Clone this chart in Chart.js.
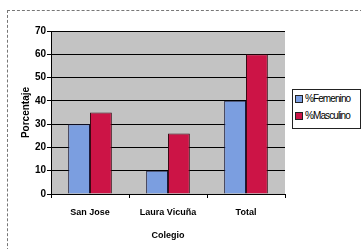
<!DOCTYPE html>
<html>
<head>
<meta charset="utf-8">
<script src="https://cdn.jsdelivr.net/npm/chart.js@4.4.1/dist/chart.umd.min.js"></script>
<style>
  html, body { margin: 0; padding: 0; background: #fff; }
  #wrap { position: relative; width: 361px; height: 249px; overflow: hidden; }
  #frame { position: absolute; left: 7px; top: 10px; width: 360px; height: 250px; border-left: 1px dashed #777; border-top: 1px dashed #777; }
  #legend { position: absolute; left: 292px; top: 89px; width: 67px; height: 38px; border: 1px solid #222; background: #fff;
    font: 10px "Liberation Sans", Arial, sans-serif; letter-spacing: -0.9px; color: #000; }
  .li { display: flex; align-items: center; height: 17px; padding-left: 2px; }
  .sw { width: 6px; height: 6px; border: 1px solid #222; margin-right: 2px; }
</style>
</head>
<body>
<div id="wrap">
  <div id="frame"></div>
  <canvas id="chart" width="361" height="249"></canvas>
  <div id="legend"></div>
</div>
<script>
// ── DATA ──
const colegios = ['San Jose', 'Laura Vicuña', 'Total'];
const femenino = [30, 10, 40];
const masculino = [35, 26, 60];
const seriesLabels = ['%Femenino', '%Masculino'];
const seriesColors = ['#7b9ee0', '#cc1446'];
const yTicks = [0, 10, 20, 30, 40, 50, 60, 70];

// ── PLOT BACKGROUND ──
const plotBg = {
  id: 'plotBg',
  beforeDraw(chart) {
    const { ctx, chartArea: a } = chart;
    ctx.save();
    ctx.fillStyle = '#c3c3c3';
    ctx.fillRect(a.left, a.top, a.right - a.left, a.bottom - a.top);
    ctx.restore();
  }
};

const font = { family: '"Liberation Sans", Arial, sans-serif', size: 9 };

new Chart(document.getElementById('chart'), {
  type: 'bar',
  data: {
    labels: colegios,
    datasets: [
      { label: seriesLabels[0], data: femenino, backgroundColor: seriesColors[0], borderColor: '#1a1a3a', borderWidth: 1 },
      { label: seriesLabels[1], data: masculino, backgroundColor: seriesColors[1], borderColor: '#3a0a14', borderWidth: 1 }
    ]
  },
  options: {
    responsive: false,
    animation: false,
    devicePixelRatio: 1,
    categoryPercentage: 0.56,
    barPercentage: 1,
    layout: { padding: { left: 20, right: 76, top: 31, bottom: 8 } },
    plugins: { legend: { display: false }, tooltip: { enabled: false } },
    scales: {
      x: {
        grid: { display: true, drawOnChartArea: false, drawTicks: true, tickLength: 4, color: '#000', offset: true },
        border: { color: '#000', width: 1 },
        ticks: { color: '#000', font: { ...font, weight: 'bold' }, padding: 9 },
        title: { display: true, text: 'Colegio', color: '#000', font: { ...font, weight: 'bold' }, padding: { top: 1, bottom: 0 } },
        afterFit(s) { s.height = 47; }
      },
      y: {
        min: 0, max: 70,
        afterBuildTicks(s) { s.ticks = yTicks.map(v => ({ value: v })); },
        grid: { color: '#000', lineWidth: 1, drawTicks: true, tickLength: 4 },
        border: { color: '#000', width: 1 },
        ticks: { color: '#000', font: { ...font, size: 10, weight: 'bold' }, padding: 1 },
        title: { display: true, text: 'Porcentaje', color: '#000', font: { ...font, size: 10, weight: 'bold' }, padding: { top: 0, bottom: 2 } },
        afterFit(s) { s.width = 31; }
      }
    }
  },
  plugins: [plotBg]
});

// ── LEGEND ──
document.getElementById('legend').innerHTML = seriesLabels.map((l, i) => `
  <div class="li"><div class="sw" style="background:${seriesColors[i]}"></div>${l}</div>
`).join('');
</script>
</body>
</html>
